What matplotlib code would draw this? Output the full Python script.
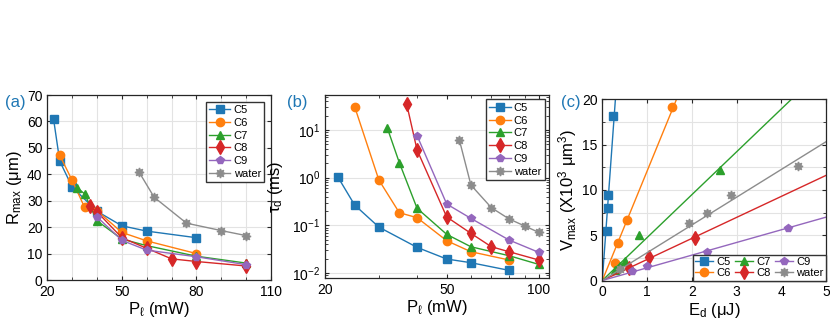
import numpy as np
import matplotlib
matplotlib.use("Agg")
import matplotlib.pyplot as plt
from matplotlib.lines import Line2D
from matplotlib.ticker import MultipleLocator, FixedLocator, FixedFormatter, NullFormatter, LogLocator

plt.rcParams['font.family'] = ['Liberation Sans', 'DejaVu Sans']
plt.rcParams['mathtext.fontset'] = 'custom'
plt.rcParams['mathtext.rm'] = 'Liberation Sans'
plt.rcParams['mathtext.it'] = 'Liberation Sans:italic'
plt.rcParams['mathtext.default'] = 'regular'

names = ['C5', 'C6', 'C7', 'C8', 'C9', 'water']
colors = ['#1f77b4', '#ff7f0e', '#2ca02c', '#d62728', '#9467bd', '#8c8c8c']
markers = ['s', 'o', '^', 'd', 'p', (8, 1, 0)]
msizes = [5.5, 6, 6, 7, 6, 6.5]

# (a) R_max vs P
a_P = {
    'C5': [22.5, 25, 30, 40, 50, 60, 80],
    'C6': [25, 30, 35, 40, 50, 60, 80],
    'C7': [32, 35, 40, 50, 60, 80, 100],
    'C8': [37, 40, 50, 60, 70, 80, 100],
    'C9': [40, 50, 60, 80, 100],
    'water': [57, 63, 76, 90, 100],
}
a_R = {
    'C5': [61, 45, 35.2, 26, 20.5, 18.5, 16],
    'C6': [47.2, 37.7, 27.5, 26.2, 18, 14.8, 10],
    'C7': [34.9, 32.6, 22.4, 15.5, 13, 9, 6.4],
    'C8': [27.9, 25.8, 16, 12, 8, 7, 5.3],
    'C9': [23.9, 15, 11.3, 8.8, 5.8],
    'water': [40.7, 31.3, 21.5, 18.7, 16.8],
}

# (b) tau_d vs P
b_P = {
    'C5': [22, 25, 30, 40, 50, 60, 80],
    'C6': [25, 30, 35, 40, 50, 60, 80],
    'C7': [32, 35, 40, 50, 60, 80, 100],
    'C8': [37, 40, 50, 60, 70, 80, 100],
    'C9': [40, 50, 60, 80, 100],
    'water': [55, 60, 70, 80, 90, 100],
}
b_tau = {
    'C5': [1.05, 0.267, 0.092, 0.0346, 0.0197, 0.0165, 0.0114],
    'C6': [30.8, 0.894, 0.184, 0.145, 0.0477, 0.028, 0.0188],
    'C7': [10.8, 2.06, 0.228, 0.0648, 0.0356, 0.0231, 0.0152],
    'C8': [34.6, 3.8, 0.15, 0.068, 0.0356, 0.028, 0.0188],
    'C9': [7.6, 0.28, 0.14, 0.0492, 0.0272],
    'water': [6.17, 0.70, 0.2345, 0.136, 0.0969, 0.0713],
}

# (c) V_max vs E_d
c_E = {
    'C5': [0.11, 0.13, 0.13, 0.25],
    'C6': [0.29, 0.35, 0.55, 1.56],
    'C7': [0.28, 0.39, 0.5, 0.82, 2.64],
    'C8': [0.59, 1.04, 2.07],
    'C9': [0.67, 1.0, 2.34, 4.15],
    'water': [0.4, 1.93, 2.35, 2.87, 4.38],
}
c_V = {
    'C5': [5.5, 7.95, 9.45, 18.15],
    'C6': [1.9, 4.15, 6.7, 19.1],
    'C7': [1.15, 1.6, 2.1, 5.0, 12.25],
    'C8': [1.4, 2.6, 4.7],
    'C9': [1.08, 1.6, 3.15, 5.8],
    'water': [1.3, 6.35, 7.45, 9.45, 12.65],
}

a_xticks = [20, 50, 80, 110]
b_xticks = [20, 50, 100]

W, H = 830, 323
fig = plt.figure(figsize=(W / 100, H / 100), dpi=100)

def rect(x0, y0, x1, y1):
    return [x0 / W, (H - y1) / H, (x1 - x0) / W, (y1 - y0) / H]

axA = fig.add_axes(rect(47.3, 95, 271, 280))
axB = fig.add_axes(rect(325, 95, 549, 277.7))
axC = fig.add_axes(rect(602.3, 99.3, 826, 280.5))

grid_kw = dict(color='#e3e3e3', linewidth=0.8)
for ax in (axA, axB, axC):
    ax.set_axisbelow(True)
    for s in ax.spines.values():
        s.set_color('#262626')
        s.set_linewidth(0.9)
    ax.tick_params(which='both', direction='in', labelsize=10, color='#262626',
                   top=True, right=True)
    ax.tick_params(which='major', length=3)
    ax.tick_params(which='minor', length=2)

leg_kw = dict(fontsize=8, frameon=True, fancybox=False, framealpha=1,
              edgecolor='#333333', handlelength=1.9, handletextpad=0.3,
              labelspacing=0.25, borderpad=0.3)

# Panel (a)
for n, c, m, ms in zip(names, colors, markers, msizes):
    axA.plot(a_P[n], a_R[n], color=c, marker=m, markersize=ms, lw=1, label=n)
axA.set_xlim(20, 110)
axA.set_ylim(0, 70)
axA.xaxis.set_major_locator(FixedLocator(a_xticks))
axA.xaxis.set_minor_locator(MultipleLocator(10))
axA.yaxis.set_major_locator(MultipleLocator(10))
axA.grid(True, which='both', **grid_kw)
axA.set_xlabel(r'P$_{\ell}$ (mW)', fontsize=12, labelpad=1)
axA.set_ylabel(r'R$_{max}$ ($\mu$m)', fontsize=12, labelpad=2)
axA.legend(loc='upper right', borderaxespad=0.6, **leg_kw)

# Panel (b)
for n, c, m, ms in zip(names, colors, markers, msizes):
    axB.plot(b_P[n], b_tau[n], color=c, marker=m, markersize=ms, lw=1, label=n)
axB.set_xscale('log')
axB.set_yscale('log')
axB.set_xlim(20, 108)
axB.set_ylim(0.008, 54)
axB.xaxis.set_major_locator(FixedLocator(b_xticks))
axB.xaxis.set_major_formatter(FixedFormatter([str(t) for t in b_xticks]))
axB.xaxis.set_minor_locator(FixedLocator([30, 40, 60, 70, 80, 90]))
axB.xaxis.set_minor_formatter(NullFormatter())
axB.yaxis.set_major_locator(LogLocator(base=10, numticks=10))
axB.yaxis.set_minor_locator(LogLocator(base=10, subs=np.arange(2, 10), numticks=10))
axB.yaxis.set_minor_formatter(NullFormatter())
axB.grid(True, which='major', axis='y', **grid_kw)
axB.set_xlabel(r'P$_{\ell}$ (mW)', fontsize=12, labelpad=1)
axB.set_ylabel(r'$\tau_{d}$ (ms)', fontsize=12, labelpad=5)
axB.legend(loc='upper right', borderaxespad=0.4, **leg_kw)

# Panel (c)
xl = np.array([0.0, 5.0])
handles = []
for n, c, m, ms in zip(names, colors, markers, msizes):
    e = np.array(c_E[n]); v = np.array(c_V[n])
    slope = np.sum(e * v) / np.sum(e * e)
    axC.plot(xl, slope * xl, color=c, lw=1)
    axC.plot(e, v, linestyle='none', color=c, marker=m, markersize=ms)
    handles.append(Line2D([], [], color=c, marker=m, markersize=ms, lw=1, label=n))
axC.set_xlim(0, 5)
axC.set_ylim(0, 20)
axC.xaxis.set_major_locator(MultipleLocator(1))
axC.yaxis.set_major_locator(MultipleLocator(5))
axC.yaxis.set_minor_locator(MultipleLocator(2.5))
axC.grid(True, which='major', axis='x', **grid_kw)
axC.grid(True, which='both', axis='y', **grid_kw)
axC.set_xlabel(r'E$_{d}$ ($\mu$J)', fontsize=12, labelpad=1)
axC.set_ylabel(r'V$_{max}$ (X10$^{3}$ $\mu$m$^{3}$)', fontsize=12, labelpad=2)
axC.legend(handles=handles, loc='lower right', ncol=3, fontsize=8, frameon=True,
           fancybox=False, framealpha=1, edgecolor='#333333', handlelength=1.6,
           handletextpad=0.3, labelspacing=0.1, borderpad=0.2, borderaxespad=0.0,
           columnspacing=0.4)

# Panel labels
for lbl, x in (('(a)', 15), ('(b)', 297), ('(c)', 571)):
    fig.text(x / W, 1 - 102 / H, lbl, color='#1f77b4', fontsize=12,
             ha='center', va='center')

fig.savefig('out.png', dpi=100)
